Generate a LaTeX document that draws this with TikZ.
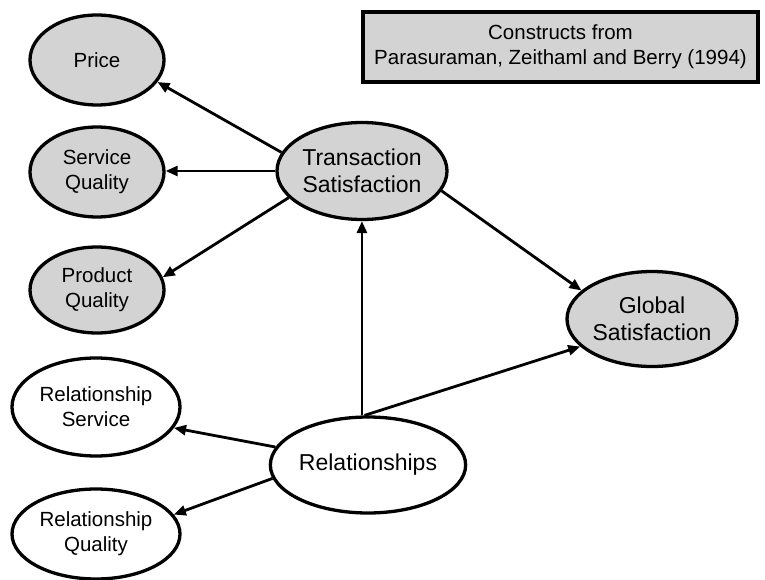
\documentclass[tikz,border=0pt]{standalone}
\usepackage{fontspec}
\setmainfont{Liberation Sans}
\usetikzlibrary{shapes.geometric,arrows.meta}
\definecolor{cgray}{RGB}{211,211,211}
\tikzset{
  ell/.style={ellipse, draw=black, line width=3.3pt, inner sep=0pt, align=center,
    font=\fontsize{20.5}{25}\selectfont},
  filled/.style={fill=cgray},
  big/.style={font=\fontsize{23}{27}\selectfont},
  conn/.style={line width=2.8pt, -{Triangle[length=12pt,width=10pt]}},
  legend/.style={draw=black, line width=4pt, fill=cgray, inner sep=0pt, align=center,
    font=\fontsize{20.5}{25}\selectfont}
}
\begin{document}
\begin{tikzpicture}[x=1pt,y=-1pt]
\useasboundingbox (0,0) rectangle (765,580);
\node[legend, minimum width=395pt, minimum height=70pt] (box) at (560.5,47) {Constructs from\\Parasuraman, Zeithaml and Berry (1994)};
\node[ell, filled, minimum width=134pt, minimum height=90pt] (price) at (97,60) {Price};
\node[ell, filled, minimum width=134pt, minimum height=90pt] (sq) at (97,172) {Service\\Quality};
\node[ell, filled, minimum width=134pt, minimum height=86pt] (pq) at (97,290) {Product\\Quality};
\node[ell, filled, big, minimum width=170pt, minimum height=97pt] (trans) at (362,171) {Transaction\\Satisfaction};
\node[ell, filled, big, minimum width=170pt, minimum height=95pt] (glob) at (652,319) {Global\\Satisfaction};
\node[ell, minimum width=168pt, minimum height=98pt] (rs) at (96,407) {Relationship\\Service};
\node[ell, minimum width=168pt, minimum height=90pt] (rq) at (96,534) {Relationship\\Quality};
\node[ell, big, minimum width=170pt, minimum height=96pt] (rel) at (368,465) {Relationships};
\draw[conn] (trans.167) -- (price.-20);
\draw[conn] (trans.west) -- (trans.west -| sq.east);
\draw[conn] (trans.200) -- (pq.11);
\draw[conn] (trans.-14) -- (glob.158);
\draw[conn] (rel.97) -- (rel.97 |- trans.south);
\draw[conn] (rel.94) -- (glob.201);
\draw[conn] (rel.169) -- (rs.-15);
\draw[conn] (rel.188) -- (rq.14);
\end{tikzpicture}
\end{document}
